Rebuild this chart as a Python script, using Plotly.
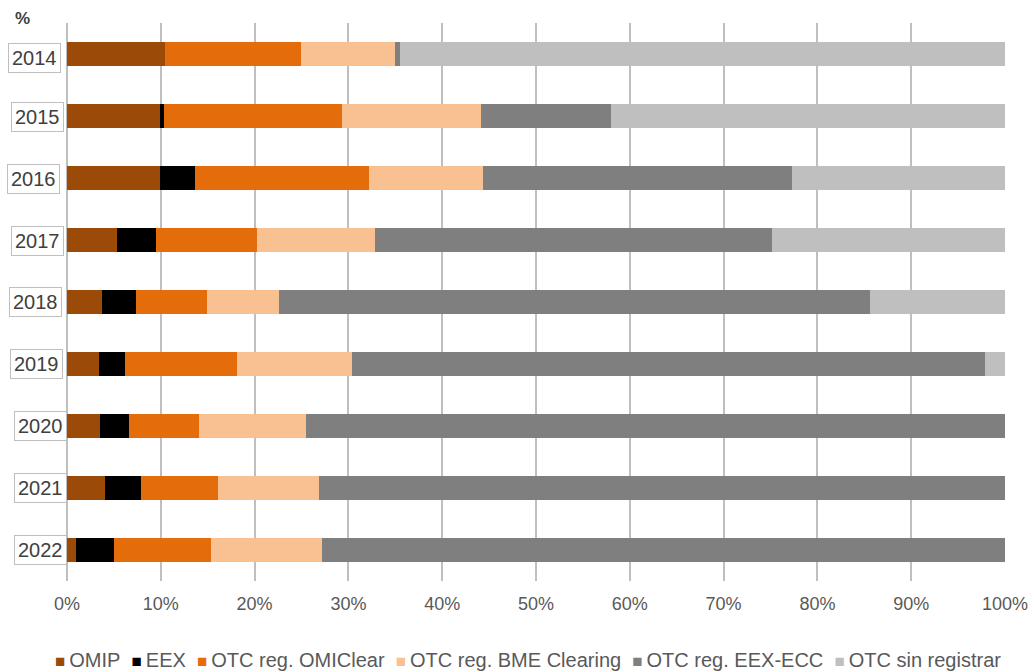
import plotly.graph_objects as go

years = ["2014", "2015", "2016", "2017", "2018", "2019", "2020", "2021", "2022"]
series_names = ["OMIP", "EEX", "OTC reg. OMIClear", "OTC reg. BME Clearing",
                "OTC reg. EEX-ECC", "OTC sin registrar"]

omip = [10.5, 9.9, 9.95, 5.3, 3.7, 3.4, 3.5, 4.0, 1.0]
eex = [0.0, 0.4, 3.65, 4.2, 3.7, 2.8, 3.1, 3.9, 4.0]
omiclear = [14.4, 19.0, 18.6, 10.8, 7.5, 11.9, 7.5, 8.2, 10.4]
bme = [10.1, 14.8, 12.2, 12.5, 7.7, 12.3, 11.4, 10.8, 11.8]
eex_ecc = [0.5, 13.9, 32.9, 42.4, 63.0, 67.5, 74.5, 73.1, 72.8]
sin_registrar = [64.5, 42.0, 22.7, 24.8, 14.4, 2.1, 0.0, 0.0, 0.0]

x_ticks = [0, 10, 20, 30, 40, 50, 60, 70, 80, 90, 100]
x_tick_labels = ["0%", "10%", "20%", "30%", "40%", "50%", "60%", "70%", "80%", "90%", "100%"]

colors = ["#9b4a08", "#000000", "#e46c0a", "#f9c191", "#7f7f7f", "#bfbfbf"]
values = [omip, eex, omiclear, bme, eex_ecc, sin_registrar]

FONT = "Liberation Sans, Arial, sans-serif"

fig = go.Figure()
for name, vals, col in zip(series_names, values, colors):
    fig.add_trace(go.Bar(
        y=years, x=vals, name=name, orientation="h",
        marker=dict(color=col, line=dict(width=0)),
        hovertemplate="%{y}: %{x:.1f}%<extra>" + name + "</extra>",
    ))

# plot area geometry (pixels) for label placement
L, R, T, B = 67, 30, 23, 91
W, H = 1035, 672
pw = W - L - R
ph = H - T - B

label_xshift = [-2, 1, -3, 1, -1, 0, 4, 4, 4]
label_yshift = [-4, -1, -1, -1, 0, 0, 0, 0, 0]
for i, (yr, dx, dy) in enumerate(zip(years, label_xshift, label_yshift)):
    fig.add_annotation(
        x=(36 - L) / pw, xref="paper", y=i, yref="y",
        text=yr, showarrow=False, xanchor="center", yanchor="middle",
        xshift=dx, yshift=dy,
        font=dict(family=FONT, size=20, color="#404040"),
        bordercolor="#bfbfbf", borderwidth=1, borderpad=3, bgcolor="white",
    )

fig.add_annotation(
    x=(22 - L) / pw, xref="paper", y=1 + (T - 18) / ph, yref="paper",
    text="<b>%</b>", showarrow=False, xanchor="center", yanchor="middle",
    font=dict(family=FONT, size=17, color="#404040"),
)

# legend row
parts = []
for name, col in zip(series_names, colors):
    parts.append(
        f"<span style='color:{col};font-size:17px'>■</span>\u2009{name}"
    )
legend_text = "\u00a0\u00a0".join(parts)
fig.add_annotation(
    x=(528 - L) / pw, xref="paper", y=-(660 - (H - B)) / ph, yref="paper",
    text=legend_text, showarrow=False, xanchor="center", yanchor="middle",
    font=dict(family=FONT, size=20, color="#595959"),
)

fig.update_layout(
    barmode="stack",
    bargap=0.6,
    width=W, height=H,
    margin=dict(l=L, r=R, t=T, b=B, pad=0, autoexpand=False),
    plot_bgcolor="white", paper_bgcolor="white",
    showlegend=False,
    font=dict(family=FONT, color="#595959"),
    xaxis=dict(
        range=[0, 100], tickmode="array", tickvals=x_ticks, ticktext=x_tick_labels,
        showgrid=True, gridcolor="#bfbfbf", gridwidth=2,
        zeroline=True, zerolinecolor="#bfbfbf", zerolinewidth=2,
        showline=False, ticks="", ticklabelstandoff=10, automargin=False,
        tickfont=dict(family=FONT, size=18, color="#595959"),
        fixedrange=True,
    ),
    yaxis=dict(
        type="category", categoryorder="array", categoryarray=years,
        range=[8.5, -0.5], showticklabels=False, showgrid=False, automargin=False,
        zeroline=False, showline=False, ticks="", fixedrange=True,
    ),
)

fig.write_html("out.html")
